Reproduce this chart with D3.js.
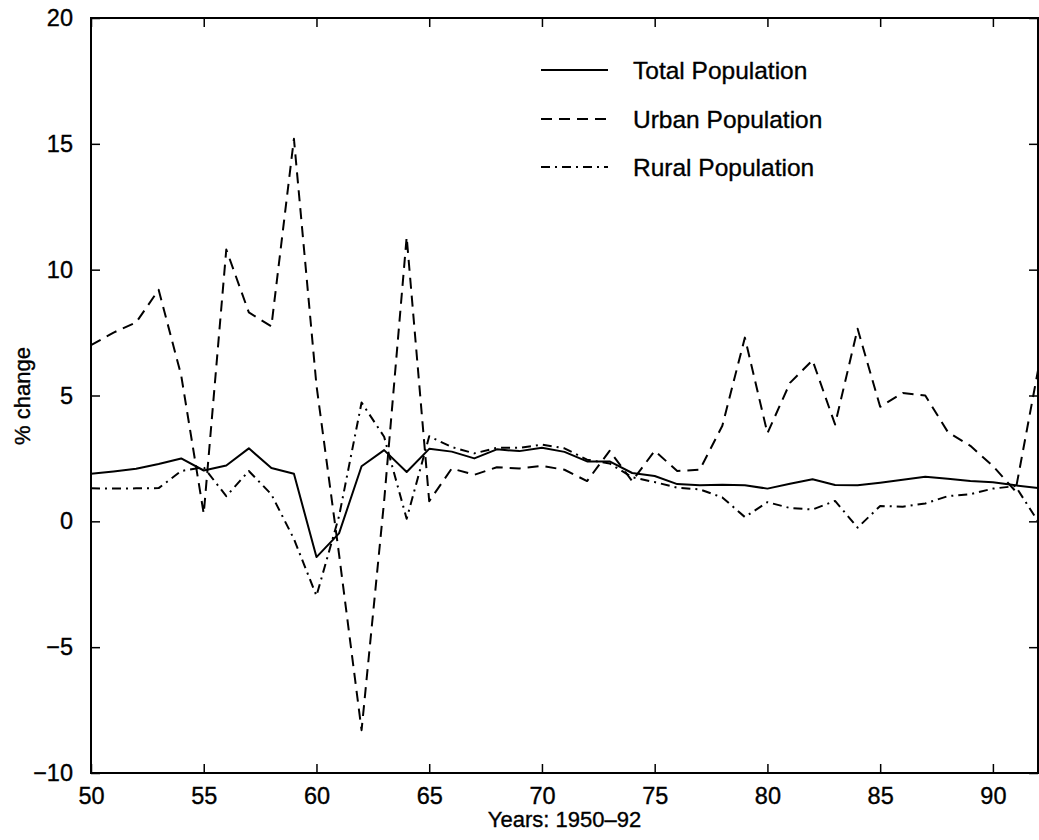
<!DOCTYPE html>
<html><head><meta charset="utf-8">
<script src="https://cdn.jsdelivr.net/npm/d3@7"></script>
<style>
html,body{margin:0;padding:0;background:#fff;}
svg{display:block;}
text{font-family:"Liberation Sans",Arial,Helvetica,sans-serif;fill:#000;stroke:#000;stroke-width:0.35px;}
</style></head>
<body>
<svg id="chart" width="1039" height="840"></svg>
<script>
const years = d3.range(50, 93);
const totalPop = [1.89,1.98,2.09,2.28,2.50,2.02,2.22,2.90,2.12,1.89,
  -1.42,-0.48,2.19,2.83,1.96,2.88,2.77,2.50,2.86,2.79,
  2.92,2.76,2.38,2.38,1.92,1.80,1.48,1.43,1.45,1.43,
  1.30,1.49,1.67,1.44,1.43,1.53,1.65,1.77,1.69,1.60,
  1.55,1.43,1.32];
const urbanPop = [7.0,7.5,7.9,9.2,5.8,0.3,10.8,8.3,7.75,15.2,
  5.4,-1.3,-8.3,0.8,11.3,0.8,2.1,1.85,2.15,2.1,
  2.2,2.05,1.6,2.8,1.6,2.8,2.0,2.05,3.8,7.3,
  3.5,5.5,6.4,3.85,7.65,4.55,5.1,5.0,3.55,3.0,
  2.2,1.2,6.0];
const ruralPop = [1.31,1.30,1.31,1.32,2.00,2.15,1.00,2.00,1.07,-0.70,
  -2.96,0.20,4.72,3.36,0.10,3.38,2.95,2.70,2.92,2.92,
  3.05,2.90,2.45,2.30,1.75,1.56,1.34,1.27,0.95,0.17,
  0.76,0.53,0.47,0.81,-0.25,0.61,0.58,0.71,1.00,1.08,
  1.30,1.40,0.00];
const xTicks = [50,55,60,65,70,75,80,85,90];
const yTicks = [-10,-5,0,5,10,15,20];
const seriesNames = ["Total Population","Urban Population","Rural Population"];

(function(){
const svg = d3.select("#chart");
const pL = 91, pR = 1038, pT = 18, pB = 773;
const x = d3.scaleLinear().domain([50,92]).range([pL,pR]);
const y = d3.scaleLinear().domain([-10,20]).range([pB,pT]);

const styles = [
  {dash:null},
  {dash:"11,7"},
  {dash:"9,5,2,5"}
];
const data = [totalPop, urbanPop, ruralPop];

svg.append("clipPath").attr("id","clip").append("rect")
  .attr("x",pL).attr("y",pT).attr("width",pR-pL).attr("height",pB-pT);

const line = d3.line().x((d,i)=>x(years[i])).y(d=>y(d));
const g = svg.append("g").attr("clip-path","url(#clip)");
data.forEach((s,k)=>{
  g.append("path").datum(s).attr("d",line)
    .attr("fill","none").attr("stroke","#000").attr("stroke-width",2)
    .attr("stroke-linejoin","round")
    .attr("stroke-dasharray",styles[k].dash);
});

const fmt = d => d < 0 ? "\u2212" + Math.abs(d) : String(d);
const xAxisB = d3.axisBottom(x).tickValues(xTicks).tickSizeInner(-9).tickSizeOuter(0).tickPadding(14).tickFormat(fmt);
const xAxisT = d3.axisTop(x).tickValues(xTicks).tickSizeInner(-9).tickSizeOuter(0).tickFormat("");
const yAxisL = d3.axisLeft(y).tickValues(yTicks).tickSizeInner(-9).tickSizeOuter(0).tickPadding(18).tickFormat(fmt);
const yAxisR = d3.axisRight(y).tickValues(yTicks).tickSizeInner(-9).tickSizeOuter(0).tickFormat("");

function styleAxis(sel){
  sel.select(".domain").remove();
  sel.selectAll(".tick line").attr("stroke","#000").attr("stroke-width",1.5);
  sel.selectAll("text").attr("font-size",23.5).attr("fill","#000")
     .style("font-family","'Liberation Sans',Arial,sans-serif");
}
svg.append("g").attr("transform",`translate(0,${pB})`).call(xAxisB).call(styleAxis);
svg.append("g").attr("transform",`translate(0,${pT})`).call(xAxisT).call(styleAxis);
svg.append("g").attr("transform",`translate(${pL},0)`).call(yAxisL).call(styleAxis);
svg.append("g").attr("transform",`translate(${pR},0)`).call(yAxisR).call(styleAxis);

svg.append("rect").attr("x",pL).attr("y",pT).attr("width",pR-pL).attr("height",pB-pT)
  .attr("fill","none").attr("stroke","#000").attr("stroke-width",2);

svg.append("text").attr("x",(pL+pR)/2).attr("y",827).attr("text-anchor","middle")
  .attr("font-size",22).text("Years: 1950\u201392");
svg.append("text").attr("transform","translate(30,396) rotate(-90)").attr("text-anchor","middle")
  .attr("font-size",22).text("% change");

const legY = [70,119,167];
seriesNames.forEach((n,k)=>{
  svg.append("line").attr("x1",541).attr("x2",608).attr("y1",legY[k]).attr("y2",legY[k])
    .attr("stroke","#000").attr("stroke-width",2).attr("stroke-dasharray",styles[k].dash);
  svg.append("text").attr("x",633).attr("y",legY[k]).attr("dy","0.36em")
    .attr("font-size",24.5).text(n);
});
})();
</script>
</body></html>
